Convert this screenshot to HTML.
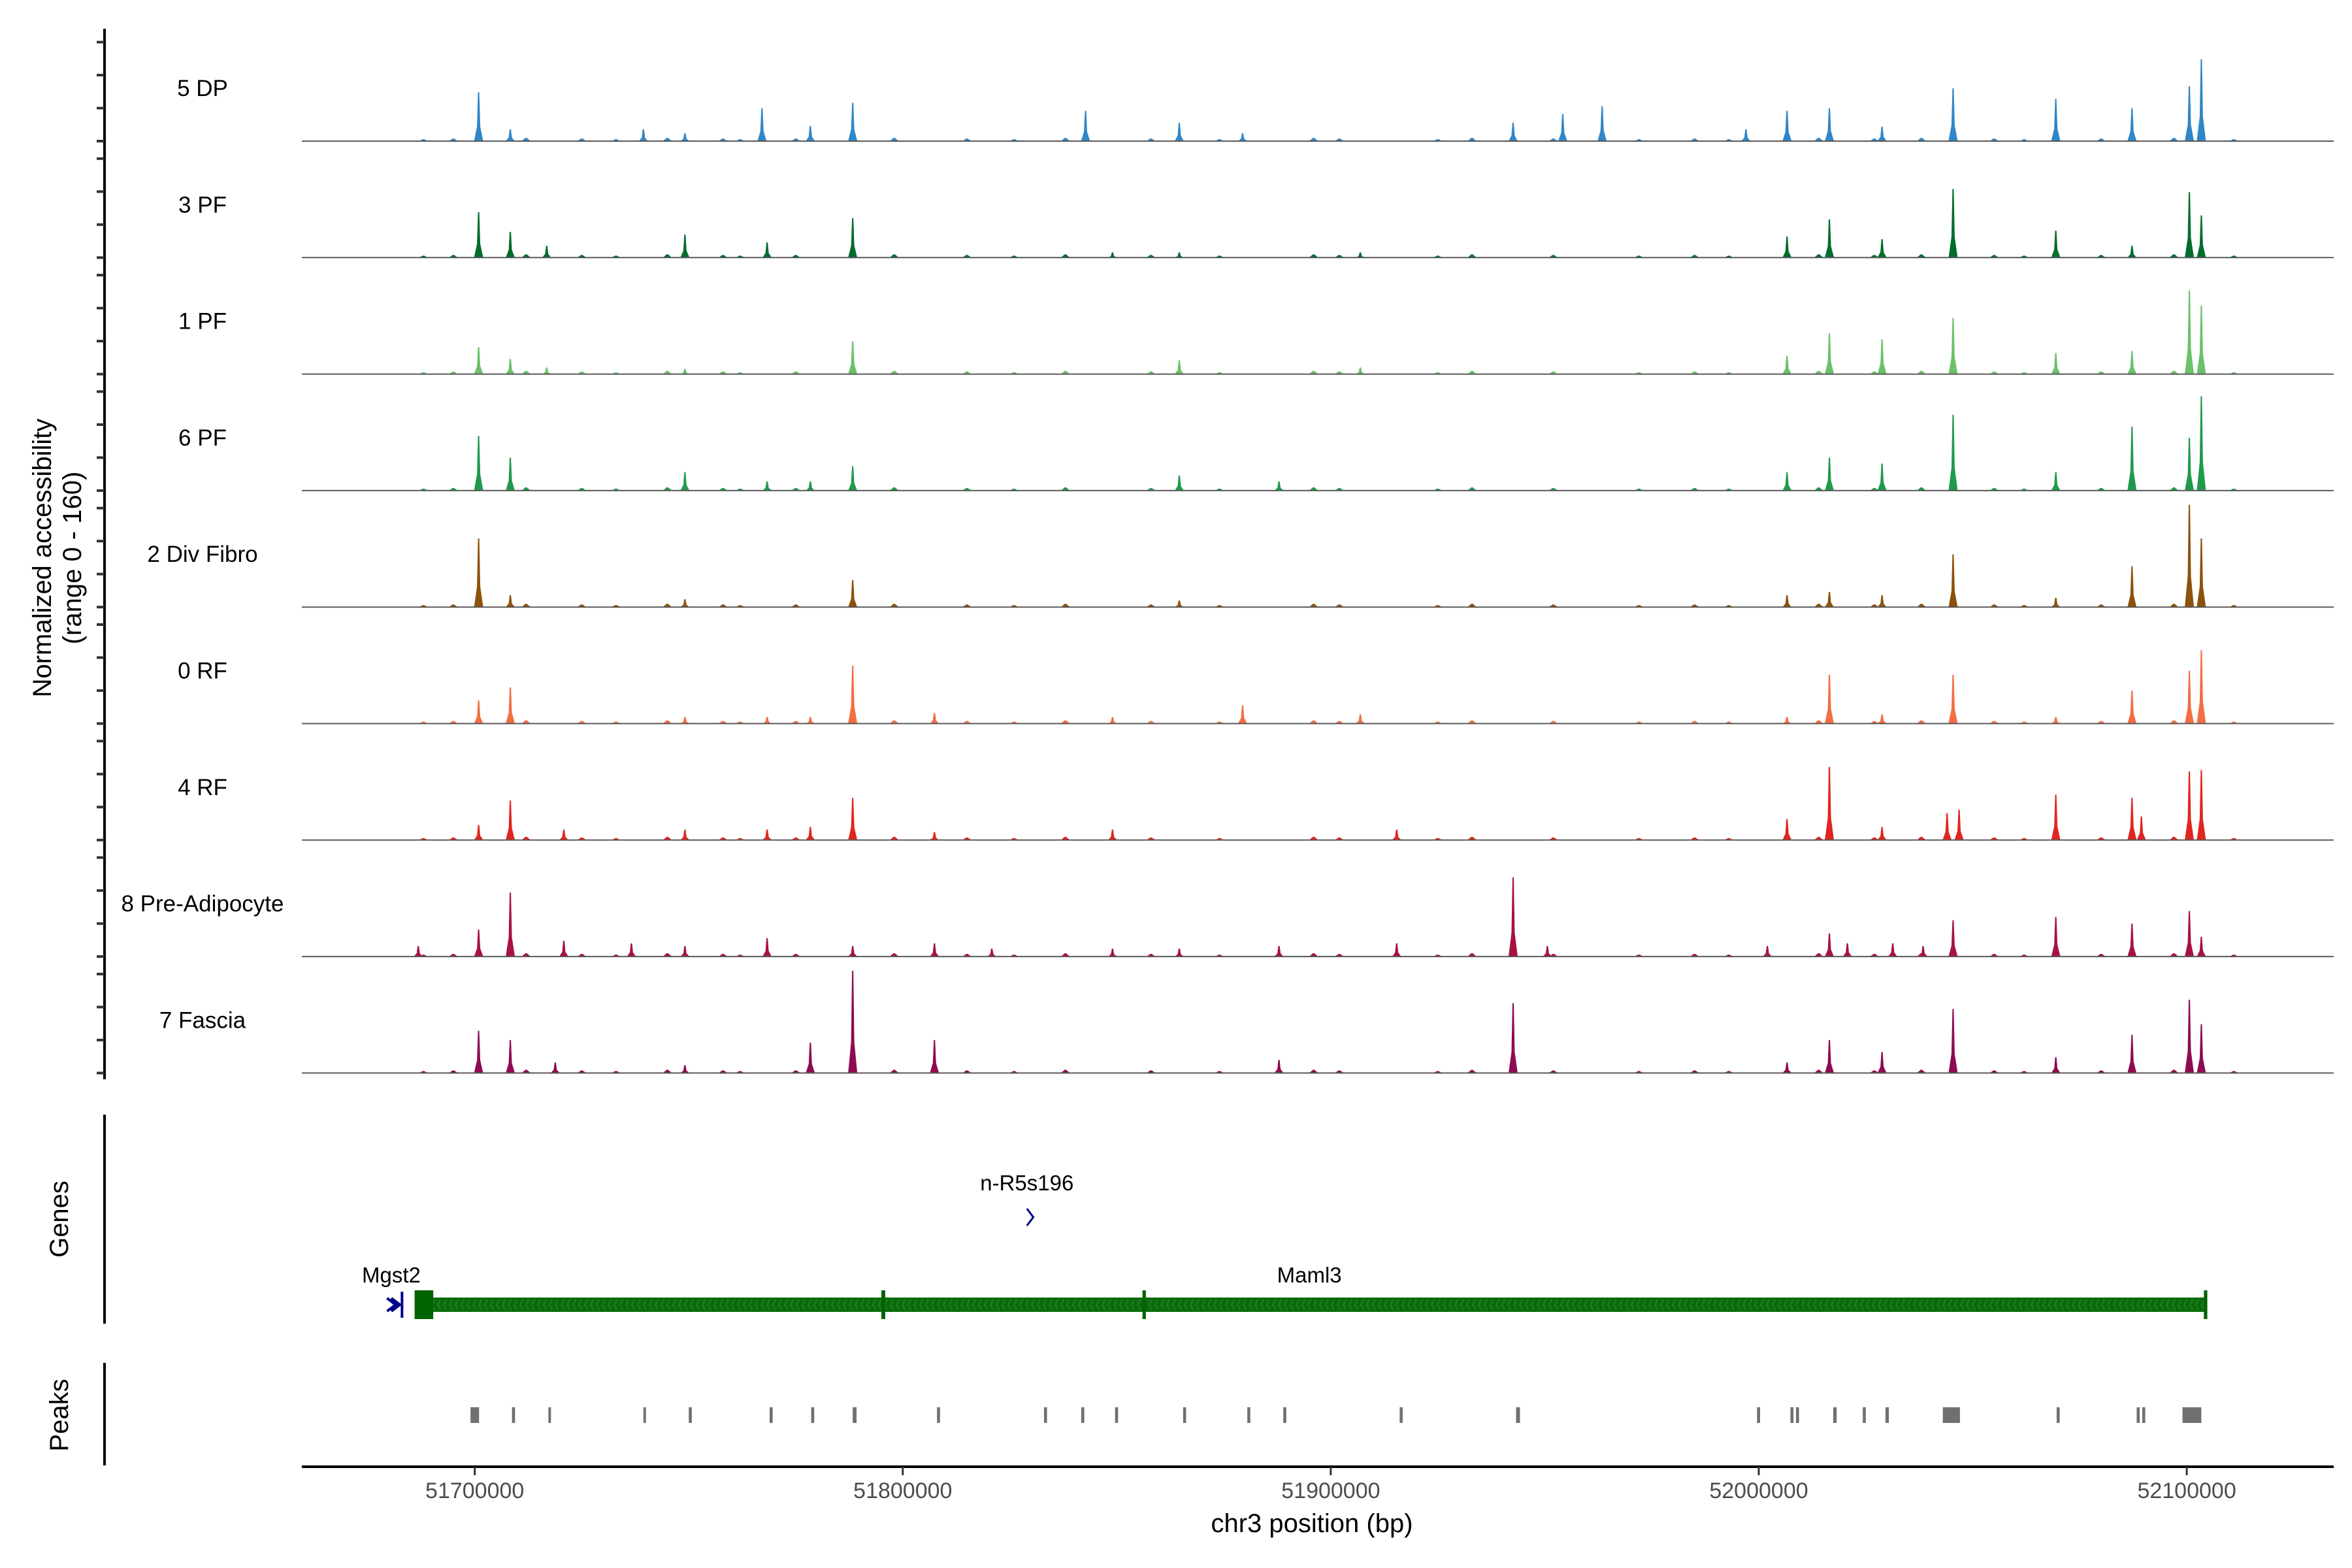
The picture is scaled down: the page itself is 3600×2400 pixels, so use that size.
<!DOCTYPE html>
<html><head><meta charset="utf-8"><style>
html,body{margin:0;padding:0;background:#fff;}
svg{display:block;font-family:"Liberation Sans",Arial,sans-serif;}
</style></head><body>
<svg id="chart" width="3600" height="2400" viewBox="0 0 3600 2400" xmlns="http://www.w3.org/2000/svg">
<g id="tracks"></g>
<g id="yaxis"></g>
<text transform="translate(78,854) rotate(-90)" text-anchor="middle" font-size="40">Normalized accessibility</text>
<text transform="translate(124,854) rotate(-90)" text-anchor="middle" font-size="40">(range 0 - 160)</text>
<line x1="160" y1="1706" x2="160" y2="2026" stroke="#000" stroke-width="4"/>
<text transform="translate(104,1866) rotate(-90)" text-anchor="middle" font-size="40">Genes</text>
<line x1="160" y1="2086" x2="160" y2="2243" stroke="#000" stroke-width="4"/>
<text transform="translate(104,2166) rotate(-90)" text-anchor="middle" font-size="40">Peaks</text>
<g id="genes"></g>
<g id="peaks"></g>
<g id="xaxis"></g>
<text x="2008" y="2345" text-anchor="middle" font-size="40">chr3 position (bp)</text>
</svg>
<script>
const trackNames = ["5 DP","3 PF","1 PF","6 PF","2 Div Fibro","0 RF","4 RF","8 Pre-Adipocyte","7 Fascia"];
const trackColors = ["#2f86c8","#006d2c","#6cc16a","#1f9a4c","#8c510a","#f46d43","#e0261f","#a8123e","#8e0b52"];
const posDP = [51700900,51708300,51739400,51749100,51767100,51778400,51788300,51842700,51864600,51879400,51942600,51954200,51963400,51997000,52006600,52016500,52028800,52045400,52069400,52087200,52100600,52103400];
const valDP = [74,18,18,12,50,23,58,46,28,12,28,41,53,18,46,50,22,80,64,50,83,124];
const posPF3 = [51700900,51708300,51716800,51749100,51768300,51788300,51849000,51864600,51906900,52006600,52016500,52028800,52045400,52069400,52087200,52100600,52103400];
const valPF3 = [69,39,18,35,23,60,8,8,8,32,58,28,104,41,18,99,64];
const posPF1 = [51700900,51708300,51716800,51749100,51788300,51864600,51906900,52006600,52016500,52028800,52045400,52069400,52087200,52100600,52103400];
const valPF1 = [41,23,10,8,50,21,10,28,62,53,85,32,35,127,104];
const posPF6 = [51700900,51708300,51749100,51768300,51778400,51788300,51864600,51887900,52006600,52016500,52028800,52045400,52069400,52087200,52100600,52103400];
const valPF6 = [83,50,28,14,14,37,23,14,28,50,41,115,28,97,80,143];
const posDiv = [51700900,51708300,51749100,51788300,51864600,52006600,52016500,52028800,52045400,52069400,52087200,52100600,52103400];
const valDiv = [104,18,12,41,10,18,23,18,80,14,62,155,104];
const posRF0 = [51700900,51708300,51749100,51768300,51778400,51788300,51807400,51849000,51879400,51906900,52006600,52016500,52028800,52045400,52069400,52087200,52100600,52103400];
const valRF0 = [35,55,10,10,10,88,16,10,28,14,10,74,14,74,10,50,80,111];
const posRF4 = [51700900,51708300,51720800,51749100,51768300,51778400,51788300,51807400,51849000,51915400,52006600,52016500,52028800,52044000,52046800,52069400,52087200,52089400,52100600,52103400];
const valRF4 = [23,60,16,16,16,20,64,12,16,16,32,111,20,41,46,69,64,36,104,106];
const posPre = [51686800,51700900,51708300,51720800,51736600,51749100,51768300,51788300,51807400,51820800,51849000,51864600,51887900,51915400,51942600,51950600,52002000,52016500,52020700,52031300,52038400,52045400,52069400,52087200,52100600,52103400];
const valPre = [16,41,97,24,20,16,28,16,20,12,12,12,16,20,120,16,16,35,20,20,16,55,60,50,69,30];
const posFas = [51700900,51708300,51718800,51749100,51778400,51788300,51807400,51887900,51942600,52006600,52016500,52028800,52045400,52069400,52087200,52100600,52103400];
const valFas = [64,50,16,12,46,155,50,20,106,16,50,32,97,24,58,111,74];
const trackPos = [posDP,posPF3,posPF1,posPF6,posDiv,posRF0,posRF4,posPre,posFas];
const trackVal = [valDP,valPF3,valPF1,valPF6,valDiv,valRF0,valRF4,valPre,valFas];
const noisePos = [51688000,51695000,51712000,51725000,51733000,51745000,51758000,51762000,51775000,51798000,51815000,51826000,51838000,51858000,51874000,51896000,51902000,51925000,51933000,51952000,51972000,51985000,51993000,52014000,52027000,52038000,52055000,52062000,52080000,52097000,52111000];
const noiseVal = [3,4,5,4,3,5,4,3,4,5,4,3,5,4,3,5,4,3,5,4,3,4,3,5,4,5,4,3,4,5,3];

const peakStart = [51699000,51708700,51717200,51739400,51750000,51768900,51778600,51788300,51808000,51833000,51841700,51849600,51865500,51880500,51888900,51916100,51943300,51999600,52007400,52008700,52017400,52024300,52029600,52043000,52069600,52088300,52089600,52099000];
const peakEnd   = [51701000,51709400,51717800,51740000,51750700,51769600,51779300,51789200,51808700,51833700,51842400,51850300,51866200,51881200,51889600,51916800,51944200,52000300,52008100,52009400,52018200,52025000,52030400,52047000,52070300,52089000,52090300,52103400];

const xTicks = [51700000,51800000,51900000,52000000,52100000];
const xTickLabels = ["51700000","51800000","51900000","52000000","52100000"];
const yTicks = [0,50,100,150];

const NS = "http://www.w3.org/2000/svg";
function xs(bp){ return 726.7 + (bp - 51700000) * 0.006551; }
const trackBase0 = 216, trackStep = 178.3;
function ys(v, i){ return trackBase0 + i*trackStep - v * 1.01; }
function mk(tag, attrs, parent){ const e=document.createElementNS(NS,tag); for(const k in attrs) e.setAttribute(k,attrs[k]); parent.appendChild(e); return e; }

const tracks = document.getElementById('tracks');
const yaxis = document.getElementById('yaxis');
const axLine = mk('line',{x1:160,y1:44,x2:160,y2:1652,stroke:'#000','stroke-width':4},yaxis);


trackNames.forEach((name,i)=>{
  const g = mk('g',{},tracks);
  
  
  const base = ys(0,i);
  const lab = mk('text',{x:310,y:base-69,'text-anchor':'middle','font-size':35,fill:'#000'},g);
  lab.textContent = name;
  
  
  noisePos.forEach((p,k)=>{
    const x=xs(p), h=ys(noiseVal[k],i);
    const n = mk('polygon',{points:`${x-7},${base} ${x-1},${h} ${x+1},${h} ${x+7},${base}`,fill:trackColors[i]},g);
    
    
  });
  trackPos[i].forEach((p,k)=>{
    const v = trackVal[i][k];
    const x=xs(p), top=ys(v,i), mid=ys(v*0.3,i);
    const pk = mk('polygon',{points:`${x-7},${base} ${x-2.5},${mid} ${x-1},${top} ${x+1},${top} ${x+2.5},${mid} ${x+7},${base}`,fill:trackColors[i]},g);
    
    
  });
  const bl = mk('line',{x1:462,y1:base,x2:3572,y2:base,stroke:'#5a5a5a','stroke-width':2},g);
  
  
  yTicks.forEach(t=>{
    const tk = mk('line',{x1:148,y1:ys(t,i),x2:160,y2:ys(t,i),stroke:'#333','stroke-width':4},yaxis);
    
    
  });
});

// genes
const genes = document.getElementById('genes');
const gy = 1997;
const maml = mk('rect',{x:xs(51686500),y:gy-11,width:xs(52104400)-xs(51686500),height:22,fill:'#0b6b0b'},genes);


for(let x=xs(51690000); x<xs(52104000); x+=9){
  const c = mk('path',{d:`M${x+4},${gy-8} L${x},${gy} L${x+4},${gy+8}`,stroke:'#2f8a2f','stroke-width':1.2,fill:'none'},genes);
  
  
}
const exons = [[51685940,51690300],[51795000,51795900],[51856000,51856800],[52104000,52104800]];
exons.forEach(e=>{
  const r = mk('rect',{x:xs(e[0]),y:gy-22,width:xs(e[1])-xs(e[0]),height:44,fill:'#006400'},genes);
  
  
});
const mg = mk('path',{d:`M${xs(51679500)},${gy-10} L${xs(51681500)},${gy} L${xs(51679500)},${gy+10} M${xs(51680500)},${gy-10} L${xs(51682500)},${gy} L${xs(51680500)},${gy+10} M${xs(51683000)},${gy-20} L${xs(51683000)},${gy+20}`,stroke:'#00008b','stroke-width':4,fill:'none'},genes);


const nr = mk('path',{d:`M${xs(51829000)},${1850} L${xs(51830500)},${1863} L${xs(51829000)},${1876}`,stroke:'#00008b','stroke-width':3,fill:'none'},genes);


[["Mgst2",51680500,1963],["Maml3",51895000,1963],["n-R5s196",51829000,1822]].forEach(l=>{
  const t = mk('text',{x:xs(l[1]),y:l[2],'text-anchor':'middle','font-size':33},genes);
  t.textContent = l[0];
  
  
});

// peaks
const peaks = document.getElementById('peaks');
peakStart.forEach((s,k)=>{
  const w = Math.max(3, xs(peakEnd[k])-xs(s));
  const r = mk('rect',{x:xs(s),y:2154,width:w,height:24,fill:'#707070'},peaks);
  
  
});

// x axis
const xaxis = document.getElementById('xaxis');
const xl = mk('line',{x1:462,y1:2245,x2:3572,y2:2245,stroke:'#000','stroke-width':4},xaxis);


xTicks.forEach((t,k)=>{
  const tk = mk('line',{x1:xs(t),y1:2245,x2:xs(t),y2:2258,stroke:'#333','stroke-width':3},xaxis);
  
  
  const lb = mk('text',{x:xs(t),y:2293,'text-anchor':'middle','font-size':34,fill:'#4d4d4d'},xaxis);
  lb.textContent = xTickLabels[k];
  
  
});
</script>
</body></html>
